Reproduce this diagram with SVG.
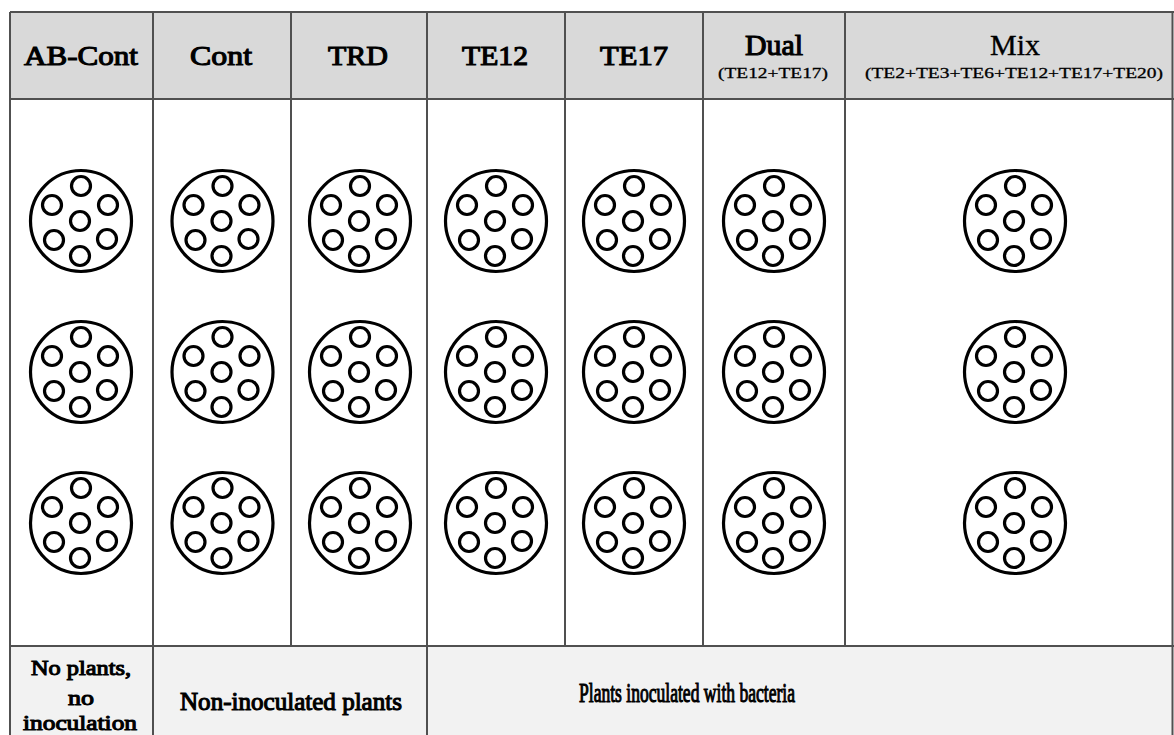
<svg xmlns="http://www.w3.org/2000/svg" xmlns:xlink="http://www.w3.org/1999/xlink" width="1174" height="735" viewBox="0 0 1174 735">
  <style>
    .grid { stroke: #505050; stroke-width: 2; fill: none; }
    text { font-family: 'Liberation Serif', 'Times New Roman', serif; font-weight: normal; text-anchor: middle; fill: #000; }
    .bold { stroke: #000; stroke-width: 1.1; }
    .semi { stroke: #000; stroke-width: 0.3; }
    .pot { fill: #fff; stroke: #000; stroke-width: 3.2; }
    .hole { fill: none; stroke: #000; stroke-width: 3.2; }
  </style>
  <defs>
    <!-- one pot seen from above, seven seedling holes -->
    <g id="potShape">
      <circle class="pot" cx="0" cy="0" r="50.5"/>
      <circle class="hole" cx="0" cy="-35" r="9.5"/>
      <circle class="hole" cx="-29" cy="-16" r="9.5"/>
      <circle class="hole" cx="27" cy="-16" r="9.5"/>
      <circle class="hole" cx="-1" cy="0" r="9.5"/>
      <circle class="hole" cx="-27" cy="19" r="9.5"/>
      <circle class="hole" cx="26" cy="18" r="9.5"/>
      <circle class="hole" cx="-1" cy="35" r="9.5"/>
    </g>
  </defs>

  <rect width="1174" height="735" fill="#fff"/>

  <!-- table backgrounds -->
  <rect x="10" y="12" width="1163" height="87" fill="#d9d9d9"/>
  <rect x="10" y="646" width="1163" height="89" fill="#f2f2f2"/>

  <!-- grid lines -->
  <g id="grid" class="grid">
    <line x1="10" y1="12" x2="1174" y2="12"/>
    <line x1="10" y1="99" x2="1174" y2="99"/>
    <line x1="10" y1="646" x2="1174" y2="646"/>
    <line x1="10" y1="12" x2="10" y2="735"/>
    <line x1="153" y1="12" x2="153" y2="735"/>
    <line x1="291" y1="12" x2="291" y2="646"/>
    <line x1="427" y1="12" x2="427" y2="735"/>
    <line x1="565" y1="12" x2="565" y2="646"/>
    <line x1="703" y1="12" x2="703" y2="646"/>
    <line x1="845" y1="12" x2="845" y2="646"/>
    <line x1="1172.5" y1="12" x2="1172.5" y2="735"/>
  </g>

  <!-- treatment columns -->
  <g id="col-ab-cont">
    <text class="bold" x="81" y="65" font-size="27" textLength="114" lengthAdjust="spacingAndGlyphs">AB-Cont</text>
    <use xlink:href="#potShape" x="81" y="221"/>
    <use xlink:href="#potShape" x="81" y="372"/>
    <use xlink:href="#potShape" x="81" y="523"/>
  </g>
  <g id="col-cont">
    <text class="bold" x="221" y="65" font-size="27" textLength="62" lengthAdjust="spacingAndGlyphs">Cont</text>
    <use xlink:href="#potShape" x="222.5" y="221"/>
    <use xlink:href="#potShape" x="222.5" y="372"/>
    <use xlink:href="#potShape" x="222.5" y="523"/>
  </g>
  <g id="col-trd">
    <text class="bold" x="358" y="65" font-size="27" textLength="60" lengthAdjust="spacingAndGlyphs">TRD</text>
    <use xlink:href="#potShape" x="360" y="221"/>
    <use xlink:href="#potShape" x="360" y="372"/>
    <use xlink:href="#potShape" x="360" y="523"/>
  </g>
  <g id="col-te12">
    <text class="bold" x="495" y="65" font-size="27" textLength="66" lengthAdjust="spacingAndGlyphs">TE12</text>
    <use xlink:href="#potShape" x="496" y="221"/>
    <use xlink:href="#potShape" x="496" y="372"/>
    <use xlink:href="#potShape" x="496" y="523"/>
  </g>
  <g id="col-te17">
    <text class="bold" x="634" y="65" font-size="27" textLength="68" lengthAdjust="spacingAndGlyphs">TE17</text>
    <use xlink:href="#potShape" x="634" y="221"/>
    <use xlink:href="#potShape" x="634" y="372"/>
    <use xlink:href="#potShape" x="634" y="523"/>
  </g>
  <g id="col-dual">
    <text class="bold" x="774" y="55" font-size="29" textLength="58" lengthAdjust="spacingAndGlyphs">Dual</text>
    <text class="semi" x="773" y="78" font-size="15" textLength="110" lengthAdjust="spacingAndGlyphs">(TE12+TE17)</text>
    <use xlink:href="#potShape" x="774" y="221"/>
    <use xlink:href="#potShape" x="774" y="372"/>
    <use xlink:href="#potShape" x="774" y="523"/>
  </g>
  <g id="col-mix">
    <text class="semi" x="1015" y="55" font-size="29" textLength="50" lengthAdjust="spacingAndGlyphs">Mix</text>
    <text class="semi" x="1014" y="78" font-size="15" textLength="298" lengthAdjust="spacingAndGlyphs">(TE2+TE3+TE6+TE12+TE17+TE20)</text>
    <use xlink:href="#potShape" x="1015" y="221"/>
    <use xlink:href="#potShape" x="1015" y="372"/>
    <use xlink:href="#potShape" x="1015" y="523"/>
  </g>

  <!-- group labels along the bottom -->
  <g id="group-none">
    <text class="bold" x="81" y="675" font-size="22" textLength="100" lengthAdjust="spacingAndGlyphs">No plants,</text>
    <text class="bold" x="81" y="705" font-size="22" textLength="26" lengthAdjust="spacingAndGlyphs">no</text>
    <text class="bold" x="80" y="730" font-size="22" textLength="114" lengthAdjust="spacingAndGlyphs">inoculation</text>
  </g>
  <g id="group-noninoculated">
    <text class="bold" x="291" y="710" font-size="25" textLength="222" lengthAdjust="spacingAndGlyphs">Non-inoculated plants</text>
  </g>
  <g id="group-inoculated">
    <text class="bold" x="687" y="702" font-size="27" textLength="216" lengthAdjust="spacingAndGlyphs">Plants inoculated with bacteria</text>
  </g>
</svg>
